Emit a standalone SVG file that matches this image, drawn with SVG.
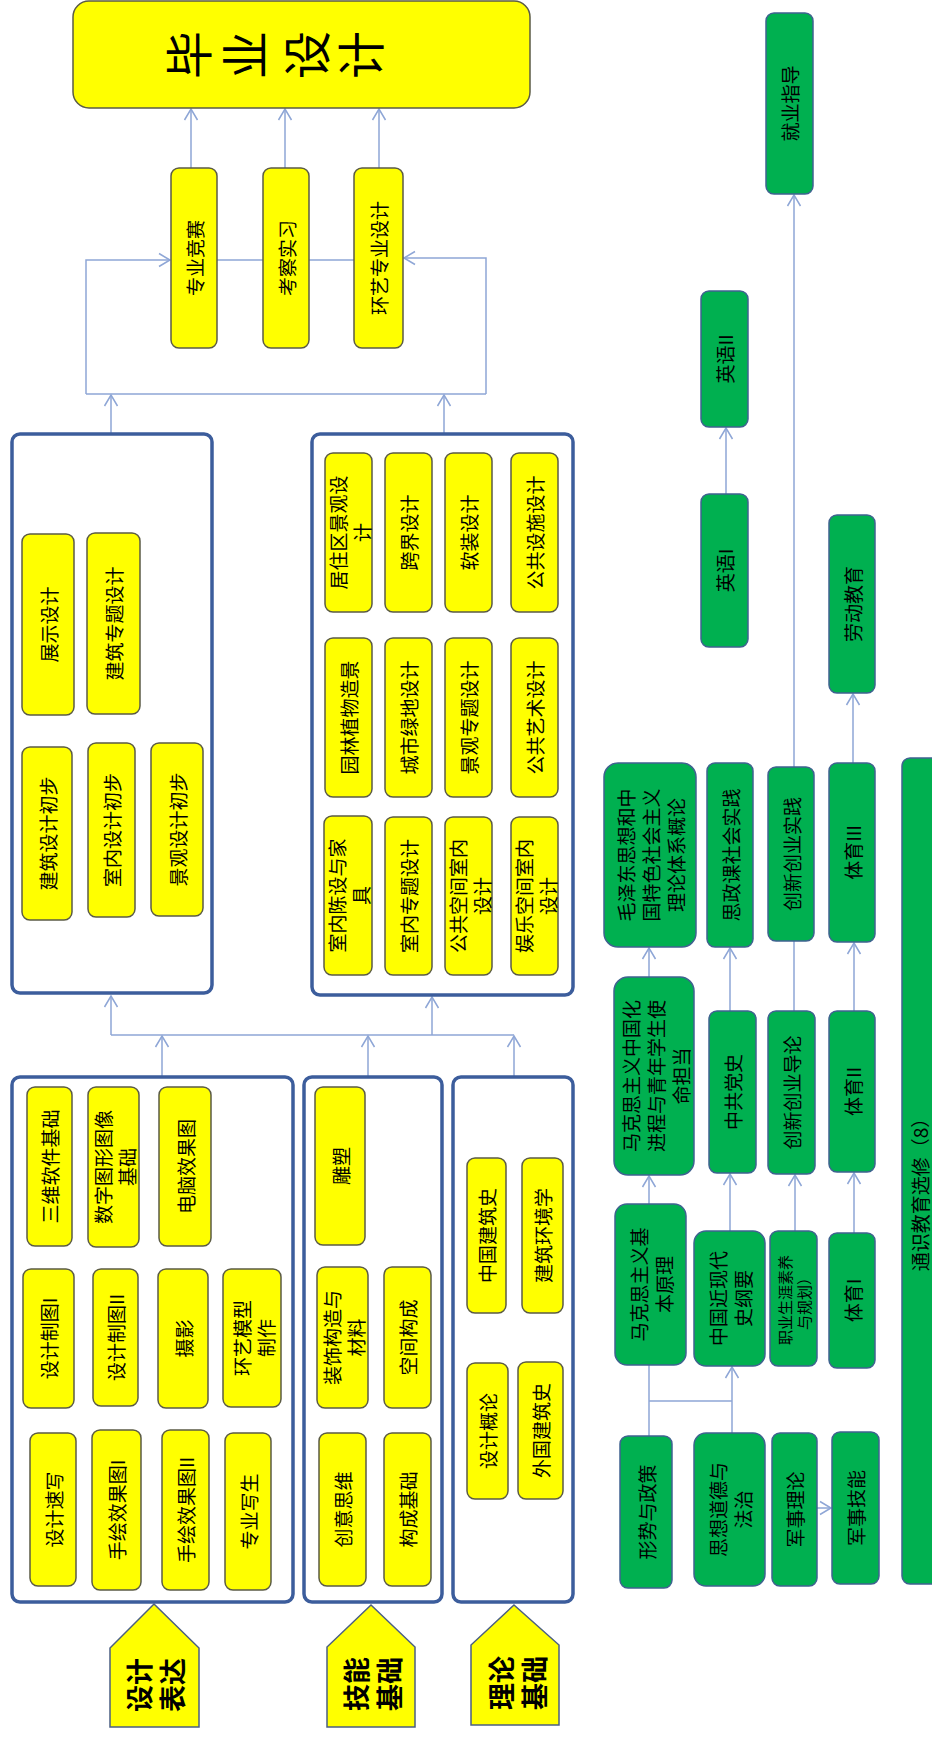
<svg xmlns="http://www.w3.org/2000/svg" width="932" height="1737" viewBox="0 0 932 1737">
<defs>
<marker id="ar" markerUnits="userSpaceOnUse" markerWidth="14" markerHeight="16" viewBox="-12 -8 14 16" refX="0" refY="0" orient="auto">
<path d="M-11,-6.5 L0,0 L-11,6.5" fill="none" stroke="#8ea6d6" stroke-width="1.5"/>
</marker>
<style>
.y{fill:#ffff00;stroke:#5b5b45;stroke-width:1.5}
.g{fill:#00b050;stroke:#3f6290;stroke-width:1.5}
.f{fill:#ffffff;stroke:#3c5d9c;stroke-width:3.5}
.lb{fill:#ffff00;stroke:#4b5f82;stroke-width:1.5}
.t{font-family:"Noto Sans CJK SC","Liberation Sans",sans-serif;font-size:19px;fill:#000;text-anchor:middle;dominant-baseline:central}
.s{font-size:15px}
.big{font-size:48px}
.b{font-size:27px;font-weight:bold}
.c{fill:none;stroke:#8ea6d6;stroke-width:1.5}
.c.a{marker-end:url(#ar)}
</style>
</defs>
<rect width="932" height="1737" fill="#ffffff"/>

<g id="connectors">
<path class="c a" d="M191,168 V109"/>
<path class="c a" d="M285,168 V109"/>
<path class="c a" d="M379,168 V109"/>
<path class="c" d="M217,260 H263"/>
<path class="c" d="M309,260 H354"/>
<path class="c a" d="M86,394 V260 H170"/>
<path class="c a" d="M486,394 V258 H404"/>
<path class="c" d="M86,394 H486"/>
<path class="c a" d="M111,433 V395"/>
<path class="c a" d="M444,433 V395"/>
<path class="c" d="M111,1035 H514"/>
<path class="c a" d="M111,1035 V996"/>
<path class="c a" d="M432,1035 V997"/>
<path class="c a" d="M162,1077 V1036"/>
<path class="c a" d="M368,1077 V1036"/>
<path class="c a" d="M514,1077 V1036"/>
<path class="c a" d="M72,1173 H87"/>
<path class="c a" d="M139,1173 H158"/>
<path class="c a" d="M74,1343 H92"/>
<path class="c a" d="M76,1515 H91"/>
<path class="c a" d="M141,1515 H161"/>
<path class="c a" d="M506,1238 H521"/>
<path class="c a" d="M726,494 V428"/>
<path class="c a" d="M794,767 V195"/>
<path class="c a" d="M853,763 V694"/>
<path class="c a" d="M649,977 V948"/>
<path class="c a" d="M730,1011 V948"/>
<path class="c" d="M794,1011 V941"/>
<path class="c a" d="M854,1011 V943"/>
<path class="c a" d="M649,1204 V1176"/>
<path class="c a" d="M730,1231 V1174"/>
<path class="c a" d="M795,1231 V1175"/>
<path class="c a" d="M854,1233 V1173"/>
<path class="c" d="M649,1436 V1365"/>
<path class="c" d="M649,1401 H732"/>
<path class="c a" d="M732,1433 V1367"/>
<path class="c a" d="M817,1508 H831"/>
</g>

<g id="n-title"><rect class="y" x="73" y="1" width="457" height="107" rx="16"/>
<text class="t big" transform="translate(186,55) rotate(-90)">毕</text>
<text class="t big" transform="translate(242,55) rotate(-90)">业</text>
<text class="t big" transform="translate(304,55) rotate(-90)">设</text>
<text class="t big" transform="translate(358,55) rotate(-90)">计</text></g>
<g id="n-zyjs"><rect class="y" x="171" y="168" width="46" height="180" rx="8"/><text class="t" transform="translate(194,258) rotate(-90)">专业竞赛</text></g>
<g id="n-kcsx"><rect class="y" x="263" y="168" width="46" height="180" rx="8"/><text class="t" transform="translate(286,258) rotate(-90)">考察实习</text></g>
<g id="n-hyzysj"><rect class="y" x="354" y="168" width="49" height="180" rx="8"/><text class="t" transform="translate(378.5,258) rotate(-90)">环艺专业设计</text></g>

<g id="frame1"><rect class="f" x="12" y="434" width="200" height="559" rx="8"/></g>
<g id="n-zssj"><rect class="y" x="22" y="534" width="52" height="181" rx="8"/><text class="t" transform="translate(48,624.5) rotate(-90)">展示设计</text></g>
<g id="n-jzztsj"><rect class="y" x="87" y="533" width="53" height="181" rx="8"/><text class="t" transform="translate(113.5,623.5) rotate(-90)">建筑专题设计</text></g>
<g id="n-jzsjcb"><rect class="y" x="22" y="747" width="50" height="173" rx="8"/><text class="t" transform="translate(47,833.5) rotate(-90)">建筑设计初步</text></g>
<g id="n-snsjcb"><rect class="y" x="88" y="743" width="47" height="174" rx="8"/><text class="t" transform="translate(111.5,830) rotate(-90)">室内设计初步</text></g>
<g id="n-jgsjcb"><rect class="y" x="151" y="743" width="52" height="173" rx="8"/><text class="t" transform="translate(177,829.5) rotate(-90)">景观设计初步</text></g>

<g id="frame2"><rect class="f" x="312" y="434" width="261" height="561" rx="8"/></g>
<g id="n-jzq"><rect class="y" x="325" y="453" width="47" height="159" rx="8"/><text class="t" transform="translate(348.5,532.5) rotate(-90)"><tspan x="0" dy="-12">居住区景观设</tspan><tspan x="0" dy="24">计</tspan></text></g>
<g id="n-kjsj"><rect class="y" x="385" y="453" width="47" height="159" rx="8"/><text class="t" transform="translate(408.5,532.5) rotate(-90)">跨界设计</text></g>
<g id="n-rzsj"><rect class="y" x="445" y="453" width="47" height="159" rx="8"/><text class="t" transform="translate(468.5,532.5) rotate(-90)">软装设计</text></g>
<g id="n-ggsssj"><rect class="y" x="511" y="453" width="47" height="159" rx="8"/><text class="t" transform="translate(534.5,532.5) rotate(-90)">公共设施设计</text></g>
<g id="n-ylzw"><rect class="y" x="325" y="638" width="47" height="159" rx="8"/><text class="t" transform="translate(348.5,717.5) rotate(-90)">园林植物造景</text></g>
<g id="n-csld"><rect class="y" x="385" y="638" width="47" height="159" rx="8"/><text class="t" transform="translate(408.5,717.5) rotate(-90)">城市绿地设计</text></g>
<g id="n-jgzt"><rect class="y" x="445" y="638" width="47" height="159" rx="8"/><text class="t" transform="translate(468.5,717.5) rotate(-90)">景观专题设计</text></g>
<g id="n-ggys"><rect class="y" x="511" y="638" width="47" height="159" rx="8"/><text class="t" transform="translate(534.5,717.5) rotate(-90)">公共艺术设计</text></g>
<g id="n-sncs"><rect class="y" x="324" y="816" width="48" height="159" rx="8"/><text class="t" transform="translate(348,895.5) rotate(-90)"><tspan x="0" dy="-12">室内陈设与家</tspan><tspan x="0" dy="24">具</tspan></text></g>
<g id="n-snzt"><rect class="y" x="385" y="817" width="47" height="158" rx="8"/><text class="t" transform="translate(408.5,896) rotate(-90)">室内专题设计</text></g>
<g id="n-ggkj"><rect class="y" x="445" y="817" width="47" height="158" rx="8"/><text class="t" transform="translate(468.5,896) rotate(-90)"><tspan x="0" dy="-12">公共空间室内</tspan><tspan x="0" dy="24">设计</tspan></text></g>
<g id="n-ylkj"><rect class="y" x="511" y="817" width="47" height="158" rx="8"/><text class="t" transform="translate(534.5,896) rotate(-90)"><tspan x="0" dy="-12">娱乐空间室内</tspan><tspan x="0" dy="24">设计</tspan></text></g>

<g id="frame3"><rect class="f" x="12" y="1077" width="281" height="525" rx="8"/></g>
<g id="n-swrj"><rect class="y" x="27" y="1087" width="45" height="159" rx="8"/><text class="t" transform="translate(49.5,1166.5) rotate(-90)">三维软件基础</text></g>
<g id="n-szcx"><rect class="y" x="88" y="1087" width="51" height="160" rx="8"/><text class="t" transform="translate(113.5,1167) rotate(-90)"><tspan x="0" dy="-12">数字图形图像</tspan><tspan x="0" dy="24">基础</tspan></text></g>
<g id="n-dnxg"><rect class="y" x="159" y="1087" width="52" height="159" rx="8"/><text class="t" transform="translate(185,1166.5) rotate(-90)">电脑效果图</text></g>
<g id="n-sjzt1"><rect class="y" x="23" y="1269" width="51" height="139" rx="8"/><text class="t" transform="translate(48.5,1338.5) rotate(-90)">设计制图I</text></g>
<g id="n-sjzt2"><rect class="y" x="93" y="1269" width="45" height="137" rx="8"/><text class="t" transform="translate(115.5,1337.5) rotate(-90)">设计制图II</text></g>
<g id="n-sy"><rect class="y" x="158" y="1269" width="50" height="139" rx="8"/><text class="t" transform="translate(183,1338.5) rotate(-90)">摄影</text></g>
<g id="n-hymx"><rect class="y" x="223" y="1269" width="58" height="138" rx="8"/><text class="t" transform="translate(253,1338) rotate(-90)"><tspan x="0" dy="-12">环艺模型</tspan><tspan x="0" dy="24">制作</tspan></text></g>
<g id="n-sjsx"><rect class="y" x="30" y="1433" width="46" height="153" rx="8"/><text class="t" transform="translate(53,1509.5) rotate(-90)">设计速写</text></g>
<g id="n-shxg1"><rect class="y" x="92" y="1430" width="49" height="160" rx="8"/><text class="t" transform="translate(116.5,1510) rotate(-90)">手绘效果图I</text></g>
<g id="n-shxg2"><rect class="y" x="162" y="1430" width="47" height="160" rx="8"/><text class="t" transform="translate(185.5,1510) rotate(-90)">手绘效果图II</text></g>
<g id="n-zyxs"><rect class="y" x="225" y="1433" width="46" height="157" rx="8"/><text class="t" transform="translate(248,1511.5) rotate(-90)">专业写生</text></g>

<g id="frame4"><rect class="f" x="304" y="1077" width="138" height="525" rx="8"/></g>
<g id="n-ds"><rect class="y" x="315" y="1087" width="50" height="158" rx="8"/><text class="t" transform="translate(340,1166) rotate(-90)">雕塑</text></g>
<g id="n-zsgz"><rect class="y" x="317" y="1267" width="51" height="141" rx="8"/><text class="t" transform="translate(342.5,1337.5) rotate(-90)"><tspan x="0" dy="-12">装饰构造与</tspan><tspan x="0" dy="24">材料</tspan></text></g>
<g id="n-kjgc"><rect class="y" x="384" y="1267" width="47" height="141" rx="8"/><text class="t" transform="translate(407.5,1337.5) rotate(-90)">空间构成</text></g>
<g id="n-cysw"><rect class="y" x="319" y="1433" width="47" height="153" rx="8"/><text class="t" transform="translate(342.5,1509.5) rotate(-90)">创意思维</text></g>
<g id="n-gcjc"><rect class="y" x="384" y="1433" width="47" height="153" rx="8"/><text class="t" transform="translate(407.5,1509.5) rotate(-90)">构成基础</text></g>

<g id="frame5"><rect class="f" x="453" y="1077" width="120" height="525" rx="8"/></g>
<g id="n-zgjzs"><rect class="y" x="467" y="1158" width="39" height="155" rx="8"/><text class="t" transform="translate(486.5,1235.5) rotate(-90)">中国建筑史</text></g>
<g id="n-jzhjx"><rect class="y" x="522" y="1158" width="41" height="155" rx="8"/><text class="t" transform="translate(542.5,1235.5) rotate(-90)">建筑环境学</text></g>
<g id="n-sjgl"><rect class="y" x="467" y="1363" width="41" height="136" rx="8"/><text class="t" transform="translate(487.5,1431) rotate(-90)">设计概论</text></g>
<g id="n-wgjzs"><rect class="y" x="518" y="1362" width="45" height="137" rx="8"/><text class="t" transform="translate(540.5,1430.5) rotate(-90)">外国建筑史</text></g>

<g id="lbl-sjbd"><polygon class="lb" points="154,1604 199,1648 199,1727 110,1727 110,1648"/><text class="t b" transform="translate(154,1685) rotate(-90)"><tspan x="0" dy="-16.5">设计</tspan><tspan x="0" dy="33">表达</tspan></text></g>
<g id="lbl-jnjc"><polygon class="lb" points="371,1605 415,1647 415,1727 327,1727 327,1647"/><text class="t b" transform="translate(371,1684) rotate(-90)"><tspan x="0" dy="-16.5">技能</tspan><tspan x="0" dy="33">基础</tspan></text></g>
<g id="lbl-lljc"><polygon class="lb" points="514,1605 559,1645 559,1725 471,1725 471,1645"/><text class="t b" transform="translate(516,1683) rotate(-90)"><tspan x="0" dy="-16.5">理论</tspan><tspan x="0" dy="33">基础</tspan></text></g>

<g id="n-jyzd"><rect class="g" x="766" y="13" width="47" height="181" rx="8"/><text class="t" transform="translate(789.5,103.5) rotate(-90)">就业指导</text></g>
<g id="n-yy2"><rect class="g" x="701" y="291" width="47" height="136" rx="8"/><text class="t" transform="translate(724.5,359) rotate(-90)">英语II</text></g>
<g id="n-yy1"><rect class="g" x="701" y="494" width="47" height="153" rx="8"/><text class="t" transform="translate(724.5,570.5) rotate(-90)">英语I</text></g>
<g id="n-ldjy"><rect class="g" x="829" y="515" width="46" height="178" rx="8"/><text class="t" transform="translate(852,604) rotate(-90)">劳动教育</text></g>
<g id="n-mzd"><rect class="g" x="604" y="763" width="92" height="184" rx="14"/><text class="t" transform="translate(650,855) rotate(-90)"><tspan x="0" dy="-25">毛泽东思想和中</tspan><tspan x="0" dy="25">国特色社会主义</tspan><tspan x="0" dy="25">理论体系概论</tspan></text></g>
<g id="n-szk"><rect class="g" x="707" y="763" width="46" height="184" rx="8"/><text class="t" transform="translate(730,855) rotate(-90)">思政课社会实践</text></g>
<g id="n-cxcysj"><rect class="g" x="768" y="767" width="46" height="174" rx="8"/><text class="t" transform="translate(791,854) rotate(-90)">创新创业实践</text></g>
<g id="n-ty3"><rect class="g" x="829" y="763" width="46" height="179" rx="8"/><text class="t" transform="translate(852,852.5) rotate(-90)">体育III</text></g>
<g id="n-tsjy"><rect class="g" x="902" y="758" width="45" height="826" rx="8"/><text class="t" transform="translate(919,1190) rotate(-90)">通识教育选修（8）</text></g>
<g id="n-mks-zgh"><rect class="g" x="614" y="977" width="80" height="198" rx="14"/><text class="t" transform="translate(655,1076) rotate(-90)"><tspan x="0" dy="-25">马克思主义中国化</tspan><tspan x="0" dy="25">进程与青年学生使</tspan><tspan x="0" dy="25">命担当</tspan></text></g>
<g id="n-zgds"><rect class="g" x="709" y="1011" width="47" height="162" rx="8"/><text class="t" transform="translate(732.5,1092) rotate(-90)">中共党史</text></g>
<g id="n-cxcydl"><rect class="g" x="768" y="1011" width="47" height="163" rx="8"/><text class="t" transform="translate(791.5,1092.5) rotate(-90)">创新创业导论</text></g>
<g id="n-ty2"><rect class="g" x="829" y="1011" width="46" height="161" rx="8"/><text class="t" transform="translate(852,1091.5) rotate(-90)">体育II</text></g>
<g id="n-mkjb"><rect class="g" x="615" y="1204" width="71" height="161" rx="12"/><text class="t" transform="translate(650.5,1284.5) rotate(-90)"><tspan x="0" dy="-12.5">马克思主义基</tspan><tspan x="0" dy="25">本原理</tspan></text></g>
<g id="n-zgjxd"><rect class="g" x="694" y="1231" width="71" height="135" rx="12"/><text class="t" transform="translate(729.5,1298.5) rotate(-90)"><tspan x="0" dy="-12.5">中国近现代</tspan><tspan x="0" dy="25">史纲要</tspan></text></g>
<g id="n-zysy"><rect class="g" x="770" y="1231" width="47" height="135" rx="8"/><text class="t s" transform="translate(793.5,1300) rotate(-90)"><tspan x="0" dy="-9.5">职业生涯素养</tspan><tspan x="0" dy="19">与规划）</tspan></text></g>
<g id="n-ty1"><rect class="g" x="829" y="1233" width="46" height="135" rx="8"/><text class="t" transform="translate(852,1300.5) rotate(-90)">体育I</text></g>
<g id="n-xszc"><rect class="g" x="620" y="1436" width="52" height="152" rx="8"/><text class="t" transform="translate(646,1512) rotate(-90)">形势与政策</text></g>
<g id="n-sxdd"><rect class="g" x="694" y="1433" width="71" height="153" rx="12"/><text class="t" transform="translate(729.5,1509.5) rotate(-90)"><tspan x="0" dy="-12.5">思想道德与</tspan><tspan x="0" dy="25">法治</tspan></text></g>
<g id="n-jsll"><rect class="g" x="772" y="1433" width="45" height="153" rx="8"/><text class="t" transform="translate(794.5,1509.5) rotate(-90)">军事理论</text></g>
<g id="n-jsjn"><rect class="g" x="832" y="1432" width="47" height="152" rx="8"/><text class="t" transform="translate(855.5,1508) rotate(-90)">军事技能</text></g>
</svg>
